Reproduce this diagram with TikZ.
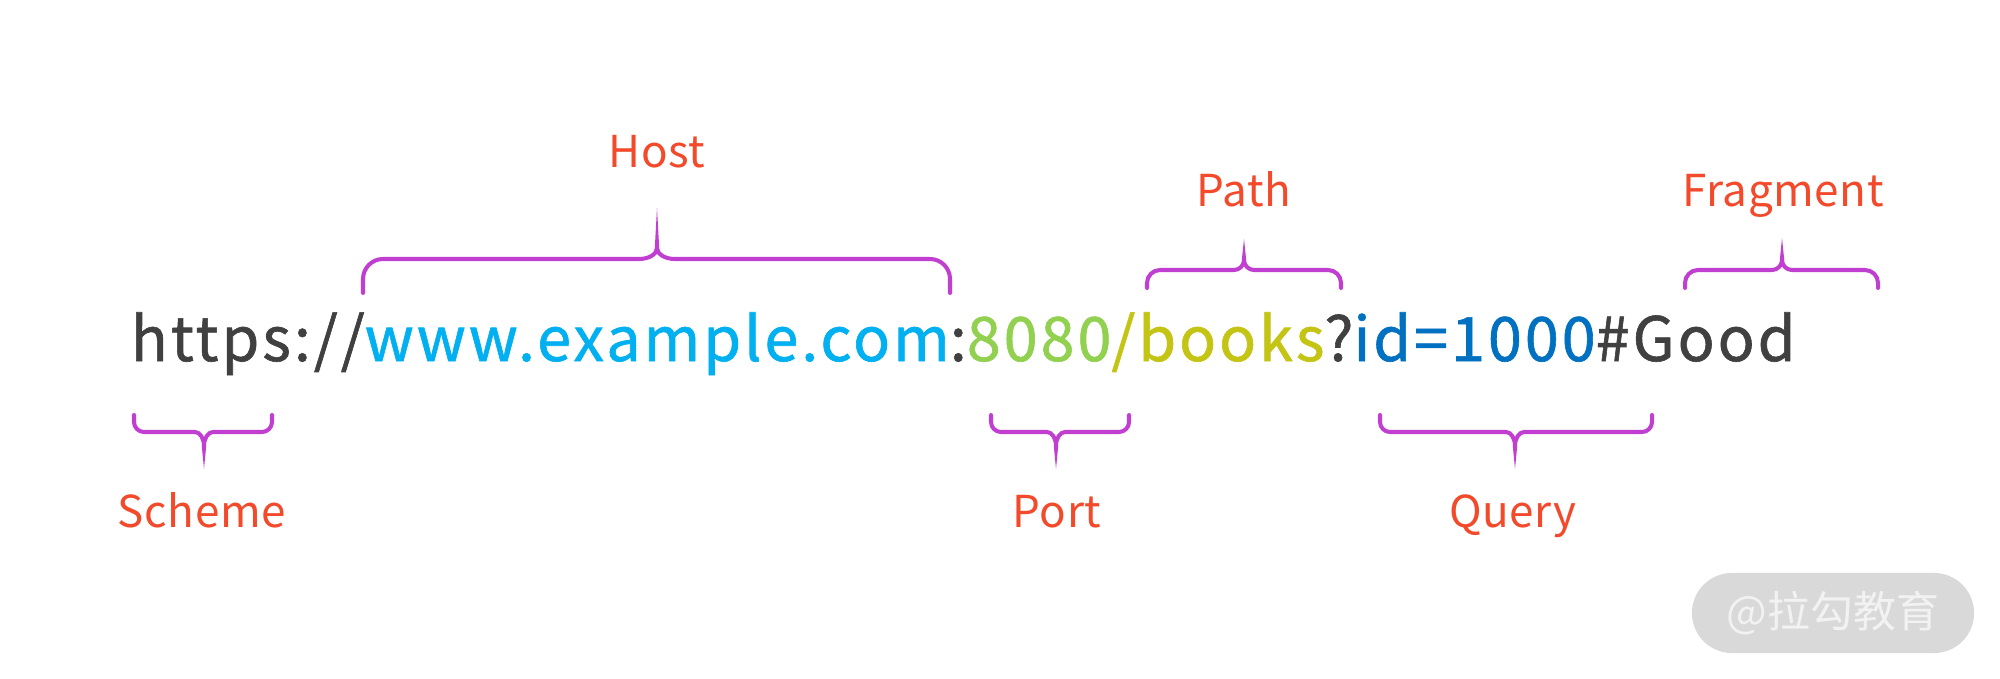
\documentclass[tikz,border=0pt]{standalone}
\usepackage{fontspec}
\setmainfont{Noto Sans CJK SC}
\newfontfamily\cjk{Noto Sans CJK SC}
\newfontfamily\urlfont[LetterSpace=4.8, FakeBold=1]{Noto Sans CJK SC}
\newfontfamily\labfont[LetterSpace=1.5]{Noto Sans CJK SC}
\definecolor{dk}{HTML}{404040}
\definecolor{hostc}{HTML}{00B0F0}
\definecolor{portc}{HTML}{92D050}
\definecolor{pathc}{HTML}{C4C414}
\definecolor{queryc}{HTML}{0070C0}
\definecolor{lbl}{HTML}{F24A2A}
\definecolor{brc}{HTML}{C03FD0}
\definecolor{wm}{HTML}{D9D9D9}
\definecolor{wmt}{HTML}{F2F2F2}
\tikzset{
  brline/.style={draw=brc, line width=1.15pt, line join=round, line cap=round},
  lab/.style={anchor=base, inner sep=0pt, text=lbl, font=\labfont\fontsize{12.5pt}{14pt}\selectfont},
}
\newcommand\urlbrace[9]{%
  \pgfmathsetmacro\bd{(#5>#4)?1:-1}%
  \pgfmathsetmacro\br{#7*\bd}%
  \pgfmathsetmacro\bcy{#9*\bd}%
  \draw[brline] (#1,#5) -- (#1,{#4+\br}) .. controls (#1,{#4+0.448*\br}) and ({#1+0.448*#7},#4) .. ({#1+#7},#4)
    -- ({#3-#8},#4) .. controls ({#3-0.448*#8},#4) and (#3,{#4-0.448*\bcy}) .. (#3,{#4-\bcy})
    .. controls (#3,{#4-0.448*\bcy}) and ({#3+0.448*#8},#4) .. ({#3+#8},#4)
    -- ({#2-#7},#4) .. controls ({#2-0.448*#7},#4) and (#2,{#4+0.448*\br}) .. (#2,{#4+\br}) -- (#2,#5);
  \fill[brc] ({#3-2.2},{#4-\bcy}) -- ({#3+2.2},{#4-\bcy}) -- (#3,#6) -- cycle;
}
\begin{document}
\begin{tikzpicture}[x=0.01cm, y=-0.01cm]
\useasboundingbox (0,0) rectangle (2000,679);
\fill[white] (0,0) rectangle (2000,679);
% URL
\node[anchor=base west, inner sep=0pt, font=\urlfont\fontsize{17.4pt}{19pt}\selectfont] (url) at (130,361)
  {\textcolor{dk}{https://}\textcolor{hostc}{www.example.com}\textcolor{dk}{:}\textcolor{portc}{8080}\textcolor{pathc}{/books}\textcolor{dk}{?}\textcolor{queryc}{id=1000}\textcolor{dk}{\#Good}};
% labels
\node[lab] (host) at (657,168) {Host};
\node[lab] (path) at (1244,206) {Path};
\node[lab] (frag) at (1783,206) {Fragment};
\node[lab] (scheme) at (202,527) {Scheme};
\node[lab] (port) at (1057,527) {Port};
\node[lab] (query) at (1513,527) {Query};
% braces: x1, x2, xtip, yh, yend, ytip, r, cusp-x, cusp-y
\urlbrace{363}{950}{657}{259}{293}{208}{20}{18}{11}
\urlbrace{1147}{1341}{1244}{270}{288}{239}{13}{10}{10}
\urlbrace{1685}{1878}{1782}{270}{288}{238}{13}{10}{10}
\urlbrace{134}{272}{204}{432}{415}{469}{10}{9}{14}
\urlbrace{991}{1129}{1056}{432}{415}{469}{10}{9}{14}
\urlbrace{1380}{1652}{1515}{432}{415}{469}{10}{9}{14}
% watermark
\node[fill=wm, rounded corners=0.4cm, minimum width=2.82cm, minimum height=0.8cm, inner sep=0pt,
  text=wmt, font=\cjk\fontsize{12.2pt}{13pt}\selectfont] (wmark) at (1833,613) {@拉勾教育};
\end{tikzpicture}
\end{document}
